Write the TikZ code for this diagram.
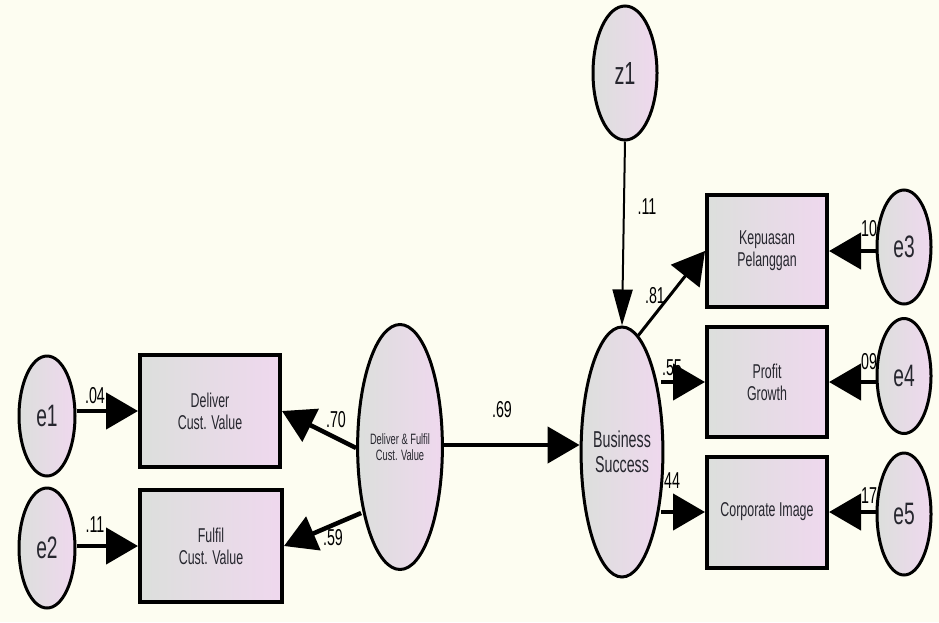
\documentclass[tikz,border=0pt]{standalone}
\usepackage{fontspec}
\setmainfont{Liberation Sans}
\newfontfamily\cond[FakeStretch=0.62]{Liberation Sans}
\usetikzlibrary{shapes.geometric,arrows.meta}
\definecolor{bg}{HTML}{FDFDF1}
\definecolor{lgray}{HTML}{DCDFDC}
\definecolor{lpink}{HTML}{EFD8EE}
\definecolor{txt}{HTML}{26262E}
\tikzset{
  obsbox/.style={draw=black,line width=4pt,left color=lgray,right color=lpink,inner sep=0pt,align=center,font=\cond\fontsize{20}{22}\selectfont,text=txt},
  latent/.style={ellipse,draw=black,line width=3pt,left color=lgray,right color=lpink,inner sep=0pt,align=center,text=txt},
  errc/.style={latent,minimum width=56pt,minimum height=120pt,font=\cond\fontsize{31}{33}\selectfont},
  path/.style={line width=4.5pt,-{Triangle[length=32pt,width=36pt]}},
  thinpath/.style={line width=2pt,-{Triangle[length=36pt,width=20pt]}},
  coef/.style={inner sep=0pt,font=\cond\fontsize{23}{25}\selectfont,text=black}
}
\begin{document}
\begin{tikzpicture}[x=1pt,y=-1pt]
\fill[bg] (0,0) rectangle (939,622);
\useasboundingbox (0,0) rectangle (939,622);
% observed boxes
\node[obsbox,minimum width=140pt,minimum height=112pt] (dcv) at (210,411) {Deliver\\Cust. Value};
\node[obsbox,minimum width=142pt,minimum height=112pt] (fcv) at (211,546) {Fulfil\\Cust. Value};
\node[obsbox,minimum width=120pt,minimum height=112pt] (kp) at (767,251) {Kepuasan\\Pelanggan};
\node[obsbox,minimum width=120pt,minimum height=110pt] (pg) at (767,382) {Profit\\Growth};
\node[obsbox,minimum width=120pt,minimum height=111pt] (ci) at (767,512) {Corporate Image};
% latent
\node[latent,minimum width=76pt,minimum height=245pt,font=\cond\fontsize{15}{16}\selectfont] (df) at (400,447) {Deliver \& Fulfil\\Cust. Value};
\node[latent,minimum width=77pt,minimum height=250pt,font=\cond\fontsize{23}{25}\selectfont] (bs) at (622,452) {Business\\Success};
\node[latent,minimum width=64pt,minimum height=134pt,font=\cond\fontsize{32}{34}\selectfont] (z1) at (625,73) {z1};
% errors
\node[errc] (e1) at (47,416) {e1};
\node[errc] (e2) at (47,548) {e2};
\node[errc,minimum width=54pt,minimum height=114pt] (e3) at (904,247) {e3};
\node[errc,minimum width=54pt,minimum height=115pt] (e4) at (904,376) {e4};
\node[errc,minimum width=54pt,minimum height=122pt] (e5) at (904,514) {e5};
% coefficients
\node[coef] (c1) at (95,396) {.04};
\node[coef] (c2) at (95,525) {.11};
\node[coef] (c3) at (336,420) {.70};
\node[coef] (c4) at (333,538) {.59};
\node[coef] (c5) at (502,410) {.69};
\node[coef] (c6) at (647,207) {.11};
\node[coef] (c7) at (655,296) {.81};
\node[coef] (c8) at (672,368) {.55};
\node[coef] (c9) at (672,481) {44};
\node[coef] (c10) at (869,229) {10};
\node[coef] (c11) at (869,362) {09};
\node[coef] (c12) at (869,496) {17};
% paths
\draw[path] (e1.east |- dcv) -- (dcv.west);
\draw[path] (e2.east |- fcv) -- (fcv.west);
\draw[path] (df.west |- 0,448) -- (dcv.east);
\draw[path] ([xshift=5pt]df.west |- 0,513) -- (fcv.east);
\draw[path] (df.east |- 0,445) -- (bs.west |- 0,445);
\draw[thinpath] (z1.south) -- (bs.north);
\draw[path,line width=3pt] (bs.82) -- (kp.west);
\draw[path] ([xshift=-3pt]bs.east |- pg) -- (pg.west);
\draw[path] ([xshift=-3pt]bs.east |- ci) -- (ci.west);
\draw[path] (e3.west |- kp) -- (kp.east);
\draw[path] (e4.west |- pg) -- (pg.east);
\draw[path] (e5.west |- ci) -- (ci.east);
\end{tikzpicture}
\end{document}
